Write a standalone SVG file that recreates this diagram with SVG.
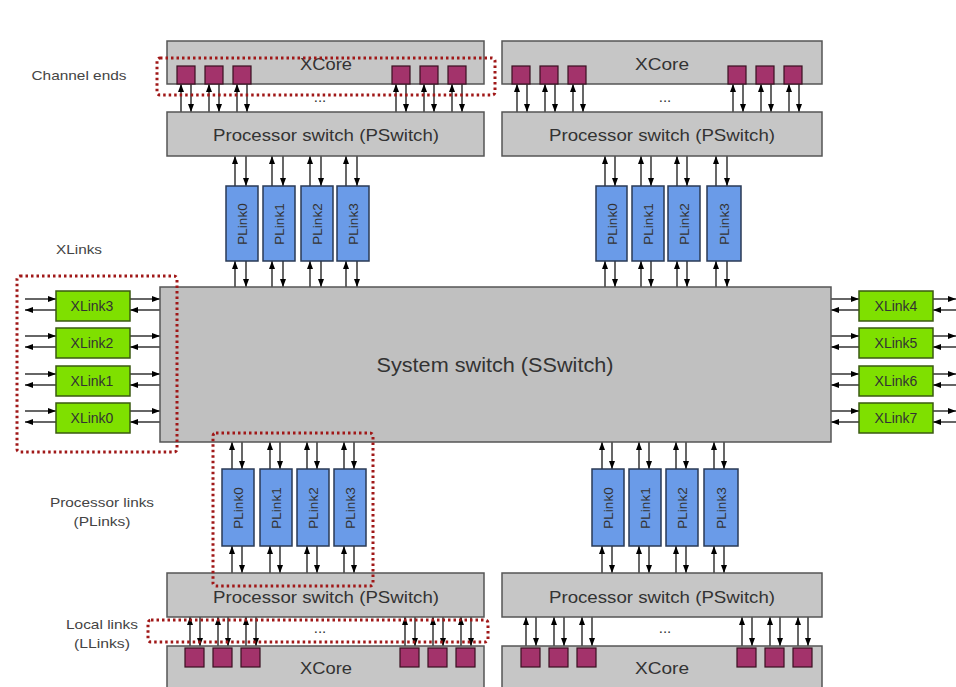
<svg xmlns="http://www.w3.org/2000/svg" width="956" height="687" viewBox="0 0 956 687">
<defs>
<marker id="ah" viewBox="0 0 8 6" refX="8" refY="3" markerWidth="8" markerHeight="6" markerUnits="userSpaceOnUse" orient="auto"><path d="M0,0 L8,3 L0,6 z" fill="#000"/></marker>
<style>
.grey{fill:#c6c6c6;stroke:#555;stroke-width:1.5}
.sw{fill:#c0c0c0;stroke:#555;stroke-width:1.5}
.pl{fill:#6a9be8;stroke:#2a3a55;stroke-width:1.5}
.xl{fill:#7fe000;stroke:#3a5a10;stroke-width:1.5}
.ce{fill:#a3336b;stroke:#3a1020;stroke-width:1.2}
.dot{fill:none;stroke:#a01818;stroke-width:3;stroke-dasharray:2.5 3}
.t{font-family:"Liberation Sans",Arial,sans-serif;fill:#333;text-anchor:middle}
.ps{font-size:17px}
.xc{font-size:17px}
.pt{font-size:13.5px}
.xt{font-size:14px}
.lab{font-family:"Liberation Sans",Arial,sans-serif;fill:#444;font-size:13px;text-anchor:middle}
.c line{stroke:#000;stroke-width:1.2;marker-end:url(#ah)}
</style>
</defs>
<rect width="956" height="687" fill="#fff"/>

<g id="connectors" class="c">
<line x1="181" y1="112" x2="181" y2="84"/><line x1="191" y1="84" x2="191" y2="112"/>
<line x1="209" y1="112" x2="209" y2="84"/><line x1="219" y1="84" x2="219" y2="112"/>
<line x1="237" y1="112" x2="237" y2="84"/><line x1="247" y1="84" x2="247" y2="112"/>
<line x1="396" y1="112" x2="396" y2="84"/><line x1="406" y1="84" x2="406" y2="112"/>
<line x1="424" y1="112" x2="424" y2="84"/><line x1="434" y1="84" x2="434" y2="112"/>
<line x1="452" y1="112" x2="452" y2="84"/><line x1="462" y1="84" x2="462" y2="112"/>
<line x1="517" y1="112" x2="517" y2="84"/><line x1="527" y1="84" x2="527" y2="112"/>
<line x1="545" y1="112" x2="545" y2="84"/><line x1="555" y1="84" x2="555" y2="112"/>
<line x1="573" y1="112" x2="573" y2="84"/><line x1="583" y1="84" x2="583" y2="112"/>
<line x1="733" y1="112" x2="733" y2="84"/><line x1="743" y1="84" x2="743" y2="112"/>
<line x1="761" y1="112" x2="761" y2="84"/><line x1="771" y1="84" x2="771" y2="112"/>
<line x1="789" y1="112" x2="789" y2="84"/><line x1="799" y1="84" x2="799" y2="112"/>
<line x1="235" y1="186" x2="235" y2="156"/><line x1="246" y1="156" x2="246" y2="186"/>
<line x1="272" y1="186" x2="272" y2="156"/><line x1="283" y1="156" x2="283" y2="186"/>
<line x1="310" y1="186" x2="310" y2="156"/><line x1="321" y1="156" x2="321" y2="186"/>
<line x1="346" y1="186" x2="346" y2="156"/><line x1="357" y1="156" x2="357" y2="186"/>
<line x1="235" y1="287" x2="235" y2="261"/><line x1="246" y1="261" x2="246" y2="287"/>
<line x1="272" y1="287" x2="272" y2="261"/><line x1="283" y1="261" x2="283" y2="287"/>
<line x1="310" y1="287" x2="310" y2="261"/><line x1="321" y1="261" x2="321" y2="287"/>
<line x1="346" y1="287" x2="346" y2="261"/><line x1="357" y1="261" x2="357" y2="287"/>
<line x1="605" y1="186" x2="605" y2="156"/><line x1="615" y1="156" x2="615" y2="186"/>
<line x1="641" y1="186" x2="641" y2="156"/><line x1="651" y1="156" x2="651" y2="186"/>
<line x1="677" y1="186" x2="677" y2="156"/><line x1="687" y1="156" x2="687" y2="186"/>
<line x1="716" y1="186" x2="716" y2="156"/><line x1="727" y1="156" x2="727" y2="186"/>
<line x1="605" y1="287" x2="605" y2="261"/><line x1="615" y1="261" x2="615" y2="287"/>
<line x1="641" y1="287" x2="641" y2="261"/><line x1="651" y1="261" x2="651" y2="287"/>
<line x1="677" y1="287" x2="677" y2="261"/><line x1="687" y1="261" x2="687" y2="287"/>
<line x1="716" y1="287" x2="716" y2="261"/><line x1="727" y1="261" x2="727" y2="287"/>
<line x1="232" y1="469" x2="232" y2="442"/><line x1="242" y1="442" x2="242" y2="469"/>
<line x1="270" y1="469" x2="270" y2="442"/><line x1="280" y1="442" x2="280" y2="469"/>
<line x1="307" y1="469" x2="307" y2="442"/><line x1="317" y1="442" x2="317" y2="469"/>
<line x1="344" y1="469" x2="344" y2="442"/><line x1="354" y1="442" x2="354" y2="469"/>
<line x1="232" y1="573" x2="232" y2="546"/><line x1="242" y1="546" x2="242" y2="573"/>
<line x1="270" y1="573" x2="270" y2="546"/><line x1="280" y1="546" x2="280" y2="573"/>
<line x1="307" y1="573" x2="307" y2="546"/><line x1="317" y1="546" x2="317" y2="573"/>
<line x1="344" y1="573" x2="344" y2="546"/><line x1="354" y1="546" x2="354" y2="573"/>
<line x1="602" y1="469" x2="602" y2="442"/><line x1="612" y1="442" x2="612" y2="469"/>
<line x1="639" y1="469" x2="639" y2="442"/><line x1="649" y1="442" x2="649" y2="469"/>
<line x1="676" y1="469" x2="676" y2="442"/><line x1="686" y1="442" x2="686" y2="469"/>
<line x1="714" y1="469" x2="714" y2="442"/><line x1="724" y1="442" x2="724" y2="469"/>
<line x1="602" y1="573" x2="602" y2="546"/><line x1="612" y1="546" x2="612" y2="573"/>
<line x1="639" y1="573" x2="639" y2="546"/><line x1="649" y1="546" x2="649" y2="573"/>
<line x1="676" y1="573" x2="676" y2="546"/><line x1="686" y1="546" x2="686" y2="573"/>
<line x1="714" y1="573" x2="714" y2="546"/><line x1="724" y1="546" x2="724" y2="573"/>
<line x1="190" y1="646" x2="190" y2="617"/><line x1="200" y1="617" x2="200" y2="646"/>
<line x1="218" y1="646" x2="218" y2="617"/><line x1="228" y1="617" x2="228" y2="646"/>
<line x1="246" y1="646" x2="246" y2="617"/><line x1="256" y1="617" x2="256" y2="646"/>
<line x1="405" y1="646" x2="405" y2="617"/><line x1="415" y1="617" x2="415" y2="646"/>
<line x1="433" y1="646" x2="433" y2="617"/><line x1="443" y1="617" x2="443" y2="646"/>
<line x1="461" y1="646" x2="461" y2="617"/><line x1="471" y1="617" x2="471" y2="646"/>
<line x1="526" y1="646" x2="526" y2="617"/><line x1="536" y1="617" x2="536" y2="646"/>
<line x1="554" y1="646" x2="554" y2="617"/><line x1="564" y1="617" x2="564" y2="646"/>
<line x1="582" y1="646" x2="582" y2="617"/><line x1="592" y1="617" x2="592" y2="646"/>
<line x1="742" y1="646" x2="742" y2="617"/><line x1="752" y1="617" x2="752" y2="646"/>
<line x1="770" y1="646" x2="770" y2="617"/><line x1="780" y1="617" x2="780" y2="646"/>
<line x1="798" y1="646" x2="798" y2="617"/><line x1="808" y1="617" x2="808" y2="646"/>
<line x1="25" y1="299" x2="56" y2="299"/><line x1="56" y1="310" x2="25" y2="310"/>
<line x1="130" y1="299" x2="160" y2="299"/><line x1="160" y1="310" x2="130" y2="310"/>
<line x1="25" y1="336" x2="56" y2="336"/><line x1="56" y1="347" x2="25" y2="347"/>
<line x1="130" y1="336" x2="160" y2="336"/><line x1="160" y1="347" x2="130" y2="347"/>
<line x1="25" y1="374" x2="56" y2="374"/><line x1="56" y1="385" x2="25" y2="385"/>
<line x1="130" y1="374" x2="160" y2="374"/><line x1="160" y1="385" x2="130" y2="385"/>
<line x1="25" y1="411" x2="56" y2="411"/><line x1="56" y1="422" x2="25" y2="422"/>
<line x1="130" y1="411" x2="160" y2="411"/><line x1="160" y1="422" x2="130" y2="422"/>
<line x1="831" y1="299" x2="859" y2="299"/><line x1="859" y1="310" x2="831" y2="310"/>
<line x1="933" y1="299" x2="956" y2="299"/><line x1="956" y1="310" x2="933" y2="310"/>
<line x1="831" y1="336" x2="859" y2="336"/><line x1="859" y1="347" x2="831" y2="347"/>
<line x1="933" y1="336" x2="956" y2="336"/><line x1="956" y1="347" x2="933" y2="347"/>
<line x1="831" y1="374" x2="859" y2="374"/><line x1="859" y1="385" x2="831" y2="385"/>
<line x1="933" y1="374" x2="956" y2="374"/><line x1="956" y1="385" x2="933" y2="385"/>
<line x1="831" y1="411" x2="859" y2="411"/><line x1="859" y1="422" x2="831" y2="422"/>
<line x1="933" y1="411" x2="956" y2="411"/><line x1="956" y1="422" x2="933" y2="422"/>
</g>

<g id="xcore-tl">
<rect class="grey" x="167" y="41" width="317" height="43"/>
<text class="t xc" x="326" y="70" textLength="52" lengthAdjust="spacingAndGlyphs">XCore</text>
<rect class="ce" x="177" y="66" width="18" height="18"/><rect class="ce" x="205" y="66" width="18" height="18"/><rect class="ce" x="233" y="66" width="18" height="18"/>
<rect class="ce" x="392" y="66" width="18" height="18"/><rect class="ce" x="420" y="66" width="18" height="18"/><rect class="ce" x="448" y="66" width="18" height="18"/>
<text class="t" x="320" y="102" font-size="15">...</text>
</g>
<g id="pswitch-tl"><rect class="grey" x="167" y="112" width="317" height="44"/><text class="t ps" x="326" y="141" textLength="226" lengthAdjust="spacingAndGlyphs">Processor switch (PSwitch)</text></g>

<g id="xcore-tr">
<rect class="grey" x="502" y="41" width="320" height="43"/>
<text class="t xc" x="662" y="70" textLength="54" lengthAdjust="spacingAndGlyphs">XCore</text>
<rect class="ce" x="512" y="66" width="18" height="18"/><rect class="ce" x="540" y="66" width="18" height="18"/><rect class="ce" x="568" y="66" width="18" height="18"/>
<rect class="ce" x="728" y="66" width="18" height="18"/><rect class="ce" x="756" y="66" width="18" height="18"/><rect class="ce" x="784" y="66" width="18" height="18"/>
<text class="t" x="665" y="102" font-size="15">...</text>
</g>
<g id="pswitch-tr"><rect class="grey" x="502" y="112" width="320" height="44"/><text class="t ps" x="662" y="141" textLength="226" lengthAdjust="spacingAndGlyphs">Processor switch (PSwitch)</text></g>

<g id="plink-tl0"><rect class="pl" x="226" y="186" width="32" height="75"/><text class="t pt" transform="translate(247,224) rotate(-90)">PLink0</text></g>
<g id="plink-tl1"><rect class="pl" x="263" y="186" width="32" height="75"/><text class="t pt" transform="translate(284,224) rotate(-90)">PLink1</text></g>
<g id="plink-tl2"><rect class="pl" x="301" y="186" width="32" height="75"/><text class="t pt" transform="translate(322,224) rotate(-90)">PLink2</text></g>
<g id="plink-tl3"><rect class="pl" x="337" y="186" width="32" height="75"/><text class="t pt" transform="translate(358,224) rotate(-90)">PLink3</text></g>
<g id="plink-tr0"><rect class="pl" x="596" y="186" width="31" height="75"/><text class="t pt" transform="translate(617,224) rotate(-90)">PLink0</text></g>
<g id="plink-tr1"><rect class="pl" x="632" y="186" width="32" height="75"/><text class="t pt" transform="translate(653,224) rotate(-90)">PLink1</text></g>
<g id="plink-tr2"><rect class="pl" x="668" y="186" width="32" height="75"/><text class="t pt" transform="translate(689,224) rotate(-90)">PLink2</text></g>
<g id="plink-tr3"><rect class="pl" x="707" y="186" width="34" height="75"/><text class="t pt" transform="translate(729,224) rotate(-90)">PLink3</text></g>

<g id="sswitch"><rect class="sw" x="160" y="287" width="671" height="155"/><text class="t" x="495" y="372" font-size="20" textLength="237" lengthAdjust="spacingAndGlyphs">System switch (SSwitch)</text></g>

<g id="xlink3"><rect class="xl" x="56" y="291" width="74" height="30"/><text class="t xt" x="92" y="311">XLink3</text></g>
<g id="xlink2"><rect class="xl" x="56" y="328" width="74" height="30"/><text class="t xt" x="92" y="348">XLink2</text></g>
<g id="xlink1"><rect class="xl" x="56" y="366" width="74" height="30"/><text class="t xt" x="92" y="386">XLink1</text></g>
<g id="xlink0"><rect class="xl" x="56" y="403" width="74" height="30"/><text class="t xt" x="92" y="423">XLink0</text></g>
<g id="xlink4"><rect class="xl" x="859" y="291" width="74" height="30"/><text class="t xt" x="896" y="311">XLink4</text></g>
<g id="xlink5"><rect class="xl" x="859" y="328" width="74" height="30"/><text class="t xt" x="896" y="348">XLink5</text></g>
<g id="xlink6"><rect class="xl" x="859" y="366" width="74" height="30"/><text class="t xt" x="896" y="386">XLink6</text></g>
<g id="xlink7"><rect class="xl" x="859" y="403" width="74" height="30"/><text class="t xt" x="896" y="423">XLink7</text></g>

<g id="plink-bl0"><rect class="pl" x="222" y="469" width="32" height="77"/><text class="t pt" transform="translate(243,508) rotate(-90)">PLink0</text></g>
<g id="plink-bl1"><rect class="pl" x="260" y="469" width="32" height="77"/><text class="t pt" transform="translate(281,508) rotate(-90)">PLink1</text></g>
<g id="plink-bl2"><rect class="pl" x="297" y="469" width="32" height="77"/><text class="t pt" transform="translate(318,508) rotate(-90)">PLink2</text></g>
<g id="plink-bl3"><rect class="pl" x="334" y="469" width="32" height="77"/><text class="t pt" transform="translate(355,508) rotate(-90)">PLink3</text></g>
<g id="plink-br0"><rect class="pl" x="592" y="469" width="32" height="77"/><text class="t pt" transform="translate(613,508) rotate(-90)">PLink0</text></g>
<g id="plink-br1"><rect class="pl" x="629" y="469" width="32" height="77"/><text class="t pt" transform="translate(650,508) rotate(-90)">PLink1</text></g>
<g id="plink-br2"><rect class="pl" x="666" y="469" width="32" height="77"/><text class="t pt" transform="translate(687,508) rotate(-90)">PLink2</text></g>
<g id="plink-br3"><rect class="pl" x="704" y="469" width="34" height="77"/><text class="t pt" transform="translate(726,508) rotate(-90)">PLink3</text></g>

<g id="pswitch-bl"><rect class="grey" x="167" y="573" width="317" height="44"/><text class="t ps" x="326" y="603" textLength="226" lengthAdjust="spacingAndGlyphs">Processor switch (PSwitch)</text></g>
<g id="xcore-bl">
<rect class="grey" x="167" y="646" width="317" height="50"/>
<text class="t xc" x="326" y="674" textLength="52" lengthAdjust="spacingAndGlyphs">XCore</text>
<rect class="ce" x="185" y="648" width="19" height="19"/><rect class="ce" x="213" y="648" width="19" height="19"/><rect class="ce" x="241" y="648" width="19" height="19"/>
<rect class="ce" x="400" y="648" width="19" height="19"/><rect class="ce" x="428" y="648" width="19" height="19"/><rect class="ce" x="456" y="648" width="19" height="19"/>
<text class="t" x="320" y="633" font-size="15">...</text>
</g>

<g id="pswitch-br"><rect class="grey" x="502" y="573" width="320" height="44"/><text class="t ps" x="662" y="603" textLength="226" lengthAdjust="spacingAndGlyphs">Processor switch (PSwitch)</text></g>
<g id="xcore-br">
<rect class="grey" x="502" y="646" width="320" height="50"/>
<text class="t xc" x="662" y="674" textLength="54" lengthAdjust="spacingAndGlyphs">XCore</text>
<rect class="ce" x="521" y="648" width="19" height="19"/><rect class="ce" x="549" y="648" width="19" height="19"/><rect class="ce" x="577" y="648" width="19" height="19"/>
<rect class="ce" x="737" y="648" width="19" height="19"/><rect class="ce" x="765" y="648" width="19" height="19"/><rect class="ce" x="793" y="648" width="19" height="19"/>
<text class="t" x="665" y="633" font-size="15">...</text>
</g>

<g id="channel-ends">
<rect class="dot" x="157" y="58" width="338" height="37" rx="3"/>
<text class="lab" x="79" y="80" textLength="95" lengthAdjust="spacingAndGlyphs">Channel ends</text>
</g>
<g id="xlinks-group">
<rect class="dot" x="17" y="276" width="160" height="176" rx="3"/>
<text class="lab" x="79" y="254" textLength="46" lengthAdjust="spacingAndGlyphs">XLinks</text>
</g>
<g id="plinks-group">
<rect class="dot" x="213" y="433" width="160" height="153" rx="3"/>
<text class="lab" x="102" y="507" textLength="104" lengthAdjust="spacingAndGlyphs">Processor links</text>
<text class="lab" x="102" y="526" textLength="57" lengthAdjust="spacingAndGlyphs">(PLinks)</text>
</g>
<g id="llinks-group">
<rect class="dot" x="148" y="620" width="340" height="22" rx="3"/>
<text class="lab" x="102" y="629" textLength="72" lengthAdjust="spacingAndGlyphs">Local links</text>
<text class="lab" x="102" y="648" textLength="56" lengthAdjust="spacingAndGlyphs">(LLinks)</text>
</g>
</svg>
